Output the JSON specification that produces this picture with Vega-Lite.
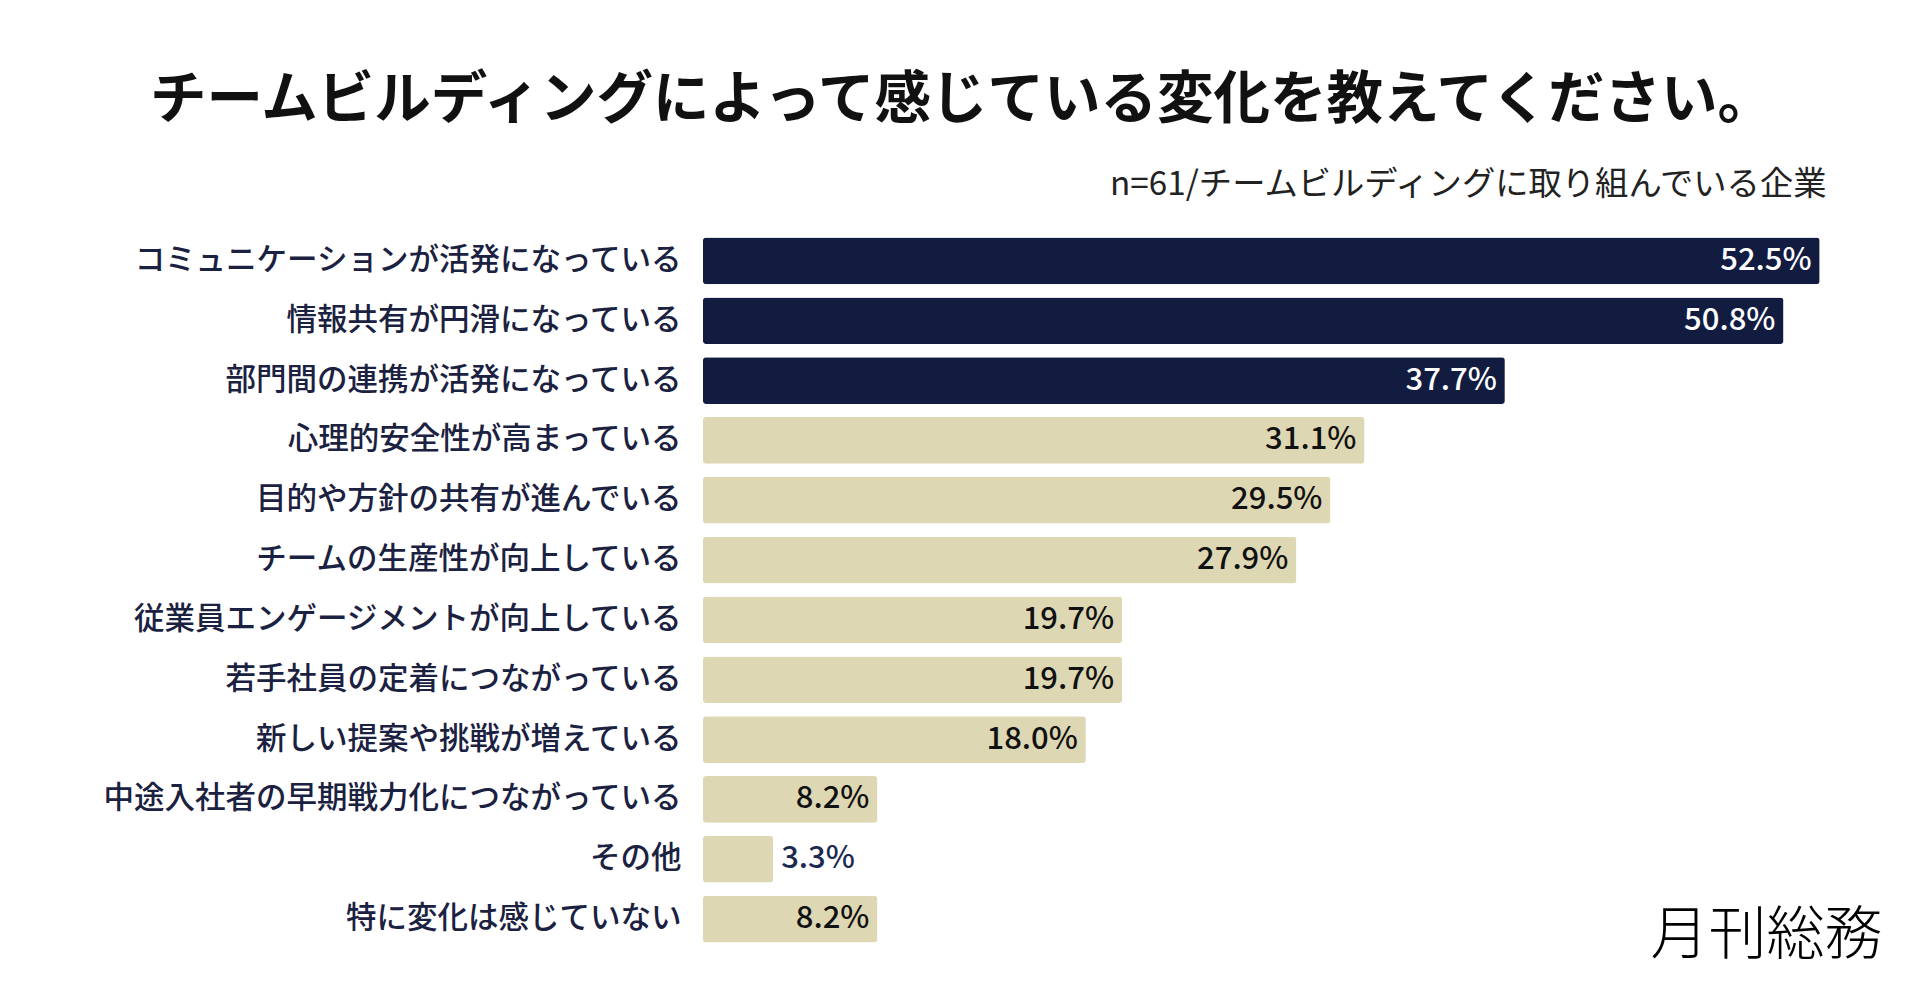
{
  "$schema": "https://vega.github.io/schema/vega-lite/v6.json",
  "width": 1123,
  "height": 718,
  "padding": {"left": 101, "top": 72, "right": 20, "bottom": 10},
  "background": "white",
  "config": {
    "font": "Noto Sans CJK JP",
    "view": {"stroke": null}
  },
  "title": {
    "text": "チームビルディングによって感じている変化を教えてください。",
    "fontSize": 56.5,
    "fontWeight": "bold",
    "color": "#111111",
    "anchor": "middle",
    "frame": "bounds",
    "dx": -30,
    "offset": 38
  },
  "datasets": {
    "bars": [
      {"label": "コミュニケーションが活発になっている", "rate": 0.525, "group": "上位"},
      {"label": "情報共有が円滑になっている", "rate": 0.508, "group": "上位"},
      {"label": "部門間の連携が活発になっている", "rate": 0.377, "group": "上位"},
      {"label": "心理的安全性が高まっている", "rate": 0.311, "group": "その他"},
      {"label": "目的や方針の共有が進んでいる", "rate": 0.295, "group": "その他"},
      {"label": "チームの生産性が向上している", "rate": 0.279, "group": "その他"},
      {"label": "従業員エンゲージメントが向上している", "rate": 0.197, "group": "その他"},
      {"label": "若手社員の定着につながっている", "rate": 0.197, "group": "その他"},
      {"label": "新しい提案や挑戦が増えている", "rate": 0.18, "group": "その他"},
      {"label": "中途入社者の早期戦力化につながっている", "rate": 0.082, "group": "その他"},
      {"label": "その他", "rate": 0.033, "group": "その他"},
      {"label": "特に変化は感じていない", "rate": 0.082, "group": "その他"}
    ],
    "logo": [
      {"label": "特に変化は感じていない", "rate": 0.5, "text": "月刊総務"}
    ]
  },
  "data": {"name": "bars"},
  "encoding": {
    "y": {
      "field": "label",
      "type": "nominal",
      "sort": null,
      "scale": {"paddingInner": 0.22, "paddingOuter": 0.11},
      "axis": {
        "title": null,
        "ticks": false,
        "domain": false,
        "labelFontSize": 30.5,
        "labelFontWeight": 500,
        "labelColor": "#1b2140",
        "labelPadding": 22,
        "labelLimit": 0
      }
    },
    "x": {
      "field": "rate",
      "type": "quantitative",
      "scale": {"domain": [0, 0.528], "nice": false},
      "axis": {
        "orient": "top",
        "labels": false,
        "ticks": false,
        "domain": false,
        "grid": false,
        "title": "n=61/チームビルディングに取り組んでいる企業",
        "titleAnchor": "end",
        "titleAlign": "right",
        "titleFontSize": 33.3,
        "titleFontWeight": "normal",
        "titleColor": "#222222",
        "titlePadding": 30
      }
    }
  },
  "layer": [
    {
      "mark": {"type": "bar", "cornerRadius": 3},
      "encoding": {
        "color": {
          "field": "group",
          "type": "nominal",
          "scale": {"domain": ["上位", "その他"], "range": ["#121c40", "#ded7b4"]},
          "legend": null
        }
      }
    },
    {
      "transform": [{"filter": "datum.rate >= 0.05"}],
      "mark": {"type": "text", "align": "right", "dx": -8, "fontSize": 31, "fontWeight": 500, "baseline": "middle"},
      "encoding": {
        "text": {"field": "rate", "type": "quantitative", "format": ".1%"},
        "color": {
          "condition": {"test": "datum.group === '上位'", "value": "#ffffff"},
          "value": "#111111"
        }
      }
    },
    {
      "transform": [{"filter": "datum.rate < 0.05"}],
      "mark": {"type": "text", "align": "left", "dx": 8, "fontSize": 31, "fontWeight": 500, "baseline": "middle", "color": "#1b2a4e"},
      "encoding": {
        "text": {"field": "rate", "type": "quantitative", "format": ".1%"}
      }
    },
    {
      "data": {"name": "logo"},
      "mark": {"type": "text", "align": "center", "baseline": "middle", "dy": 18, "fontSize": 58, "fontWeight": 300, "color": "#000000"},
      "encoding": {
        "text": {"field": "text", "type": "nominal"}
      }
    }
  ]
}
